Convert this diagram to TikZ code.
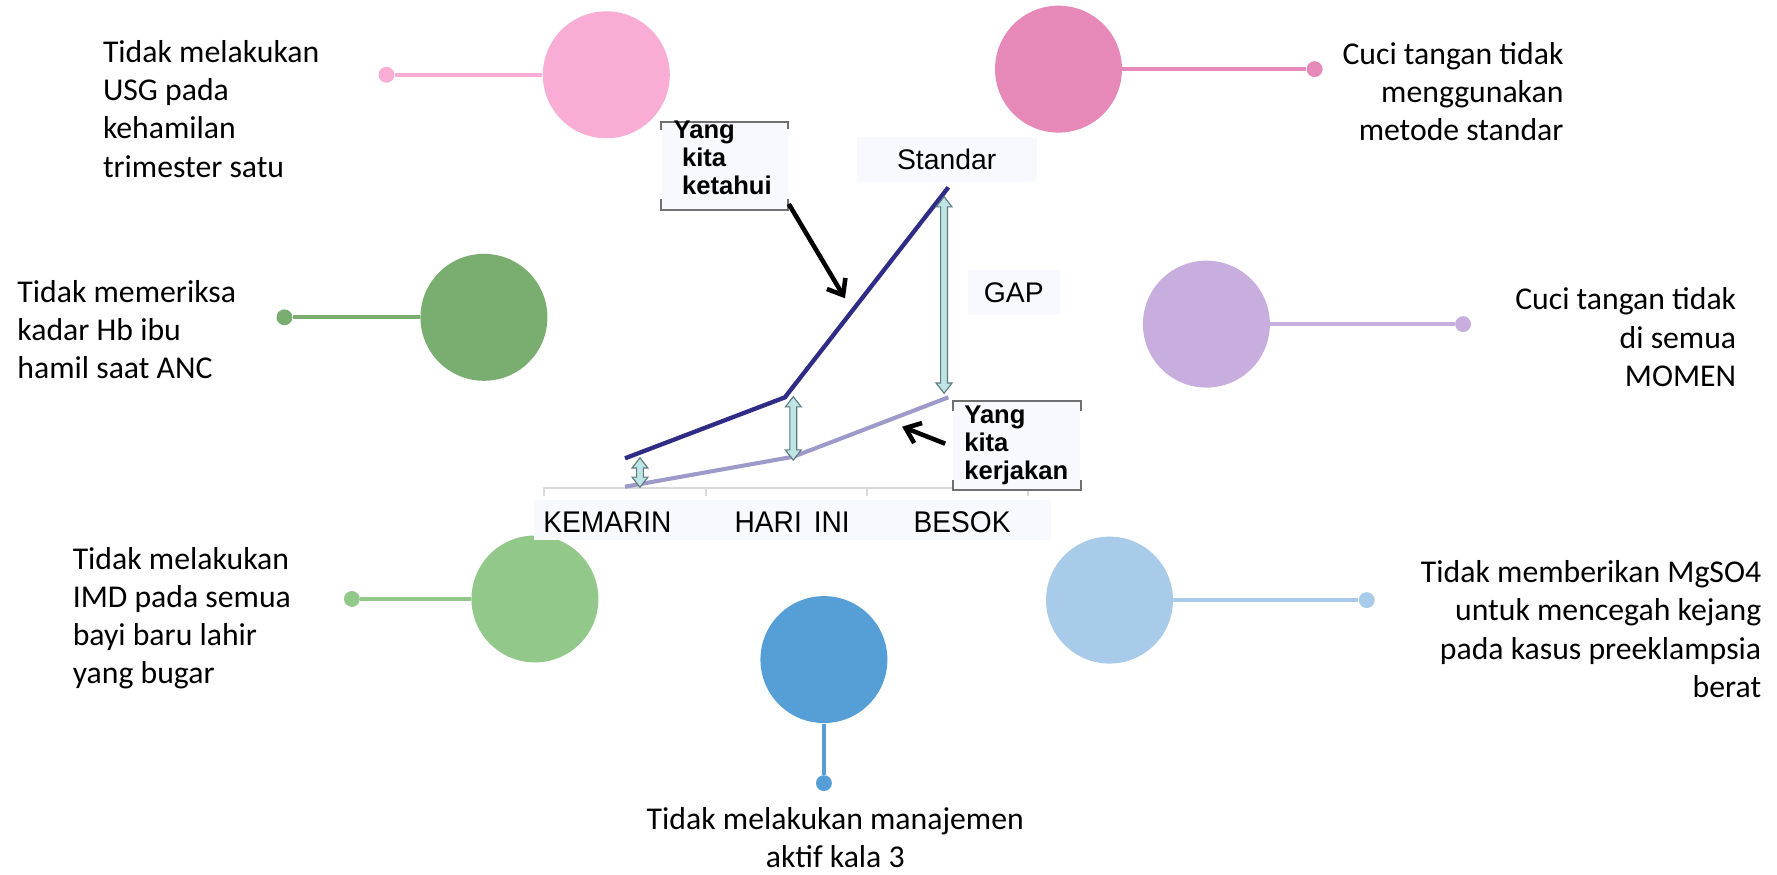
\documentclass[tikz,border=0pt]{standalone}
\usepackage{fontspec}
\setmainfont{Carlito}
\newfontfamily\chartfont{Liberation Sans}
\newfontfamily\chartnarrow[FakeStretch=0.94]{Liberation Sans}
\usetikzlibrary{arrows.meta,calc}

% bubble colours
\definecolor{pinkA}{HTML}{F9ADD4}
\definecolor{pinkB}{HTML}{E688B8}
\definecolor{greenA}{HTML}{7AAD70}
\definecolor{lilac}{HTML}{C8ADDF}
\definecolor{greenB}{HTML}{92C98B}
\definecolor{blueA}{HTML}{A7CBE8}
\definecolor{blueB}{HTML}{569FD6}
% chart colours
\definecolor{navyline}{HTML}{2F2C86}
\definecolor{softline}{HTML}{9D99C9}
\definecolor{gapfill}{HTML}{BEE4E4}
\definecolor{gapedge}{HTML}{5F7A80}
\definecolor{paneltint}{HTML}{F7F9FE}
\definecolor{axisgray}{HTML}{D9D9D9}
\definecolor{framegray}{HTML}{707070}

% vertical double-headed block arrow between two named points (top, bottom)
\newcommand\gaparrow[2]{%
  \path[gapshape] (#1) -- ($(#1)+(7,9)$) -- ($(#1)+(3,9)$) -- ($(#2)+(3,-9)$)
    -- ($(#2)+(7,-9)$) -- (#2) -- ($(#2)+(-7,-9)$) -- ($(#2)+(-3,-9)$)
    -- ($(#1)+(-3,9)$) -- ($(#1)+(-7,9)$) -- cycle;}

\begin{document}
\begin{tikzpicture}[x=0.5pt,y=-0.5pt,
  bubble/.style={circle, minimum size=56pt, inner sep=0pt, fill=#1},
  pin/.style={circle, minimum size=7pt, inner sep=0pt, fill=#1},
  stem/.style={draw=#1, line width=1.75pt},
  caption/.style={font=\fontsize{14}{16.9}\selectfont, inner sep=0pt, text=black},
  axislabel/.style={font=\chartnarrow\fontsize{13.2}{15}\selectfont, inner sep=0pt},
  tintbox/.style={fill=paneltint, inner sep=0pt, font=\chartfont\fontsize{12.5}{15}\selectfont},
  boxtext/.style={font=\chartfont\bfseries\fontsize{11.3}{12.5}\selectfont, align=left, inner sep=0pt},
  framebox/.style={fill=paneltint, inner sep=0pt},
  bracketline/.style={draw=framegray, line width=0.9pt},
  knownline/.style={draw=navyline, line width=1.9pt, line join=round},
  doneline/.style={draw=softline, line width=1.8pt, line join=round},
  gapshape/.style={fill=gapfill, draw=gapedge, line width=0.5pt, line join=miter},
  pointer/.style={draw=black, line width=2pt, -{Straight Barb[length=6pt, width=9.5pt, line width=2pt]}},
  axisline/.style={draw=axisgray, line width=0.9pt}
]
\useasboundingbox[fill=white] (0,0) rectangle (1568,772);

% ---------- bubbles, pins and stems ----------
% (multi-line captions are anchored at the baseline of their last line)
\node[bubble=pinkA]  (c1) at (535,66) {};
\node[pin=pinkA]     (p1) at (341,66) {};
\draw[stem=pinkA] (p1) -- (c1);
\node[caption, align=left, anchor=base west] (t1) at (90.5,156.4)
  {Tidak melakukan\\USG pada\\kehamilan\\trimester satu};

\node[bubble=pinkB]  (c2) at (934,61) {};
\node[pin=pinkB]     (p2) at (1160,61) {};
\draw[stem=pinkB] (c2) -- (p2);
\node[caption, align=right, anchor=base east] (t2) at (1380,124.1)
  {Cuci tangan tidak\\menggunakan\\metode standar};

\node[bubble=greenA] (c3) at (427,280) {};
\node[pin=greenA]    (p3) at (251,280) {};
\draw[stem=greenA] (p3) -- (c3);
\node[caption, align=left, anchor=base west] (t3) at (15,334.4)
  {Tidak memeriksa\\kadar Hb ibu\\hamil saat ANC};

\node[bubble=lilac]  (c4) at (1064.5,286) {};
\node[pin=lilac]     (p4) at (1291,286) {};
\draw[stem=lilac] (c4) -- (p4);
\node[caption, align=right, anchor=base east] (t4) at (1532.4,341)
  {Cuci tangan tidak\\di semua\\MOMEN};

\node[bubble=greenB] (c5) at (472,528.5) {};
\node[pin=greenB]    (p5) at (310.5,528.5) {};
\draw[stem=greenB] (p5) -- (c5);
\node[caption, align=left, anchor=base west] (t5) at (63.8,603.5)
  {Tidak melakukan\\IMD pada semua\\bayi baru lahir\\yang bugar};

\node[bubble=blueA]  (c6) at (979,529.5) {};
\node[pin=blueA]     (p6) at (1206,529.5) {};
\draw[stem=blueA] (c6) -- (p6);
\node[caption, align=right, anchor=base east] (t6) at (1554.4,615.3)
  {Tidak memberikan MgSO4\\untuk mencegah kejang\\pada kasus preeklampsia\\berat};

\node[bubble=blueB]  (c7) at (727,582) {};
\node[pin=blueB]     (p7) at (727,691) {};
\draw[stem=blueB] (c7) -- (p7);
\node[caption, align=center, anchor=base] (t7) at (737,765.5)
  {Tidak melakukan manajemen\\aktif kala 3};

% ---------- chart: axis and category labels ----------
\fill[paneltint] (471,441) rectangle (927,476.5);
\draw[axisline] (480,438) -- (480,430.3) -- (906.8,430.3) -- (906.8,438);
\draw[axisline] (622.7,430.3) -- (622.7,438);
\draw[axisline] (764.7,430.3) -- (764.7,438);
\node[axislabel] (lk) at (536,461) {KEMARIN};
\node[axislabel] (lh) at (699,461) {HARI\hspace{0.4em}INI};
\node[axislabel] (lb) at (849,461) {BESOK};

\node[tintbox, minimum width=79.3pt, minimum height=19.8pt] (std) at (835.3,140.4) {Standar};
\node[tintbox, minimum width=40.5pt, minimum height=20pt] (gap) at (894.5,258) {GAP};

% ---------- chart: the two curves ----------
\coordinate (k1) at (551.5,404.4);
\coordinate (k2) at (692.6,350.6);
\coordinate (k3) at (836.8,165.3);
\coordinate (w1) at (551.5,429.5);
\coordinate (w2) at (700,403);
\coordinate (w3) at (836.8,350.6);
\draw[doneline] (w1) -- (w2) -- (w3);
\draw[knownline] (k1) -- (k2) -- (k3);

% ---------- chart: gap arrows ----------
\coordinate (g1t) at (564.7,404);
\coordinate (g1b) at (564.7,430);
\coordinate (g2t) at (700,350);
\coordinate (g2b) at (700,406);
\coordinate (g3t) at (833,173.5);
\coordinate (g3b) at (833,347);
\gaparrow{g1t}{g1b}
\gaparrow{g2t}{g2b}
\gaparrow{g3t}{g3b}

% ---------- chart: annotation boxes ----------
\node[framebox, minimum width=55.6pt, minimum height=38.3pt] (kb) at (639.4,146.3) {};
\draw[bracketline] ([yshift=-3.5pt]kb.north west) -- (kb.north west) -- (kb.north east) -- ([yshift=-3pt]kb.north east);
\draw[bracketline] ([yshift=4.5pt]kb.south west) -- (kb.south west) -- (kb.south east) -- ([yshift=4.5pt]kb.south east);
\node[boxtext, anchor=base west] (kbt) at (594,172)
  {Yang\\\hspace{3.7pt}kita\\\hspace{3.7pt}ketahui};

\node[framebox, minimum width=56.2pt, minimum height=38.7pt] (db) at (897.2,393.1) {};
\draw[bracketline] ([yshift=-4.5pt]db.north west) -- (db.north west) -- (db.north east) -- ([yshift=-4.5pt]db.north east);
\draw[bracketline] ([yshift=4.5pt]db.south west) -- (db.south west) -- (db.south east) -- ([yshift=4.5pt]db.south east);
\node[boxtext, anchor=base west] (dbt) at (850.5,423.5)
  {Yang\\kita\\kerjakan};

% ---------- chart: pointers from the boxes ----------
\coordinate (kpt) at (745.6,263.2);
\coordinate (kst) at (696,180);
\coordinate (dst) at (834,391.5);
\coordinate (dpt) at (796,376.5);
\draw[pointer] (kst) -- (kpt);
\draw[pointer] (dst) -- (dpt);
\end{tikzpicture}
\end{document}
